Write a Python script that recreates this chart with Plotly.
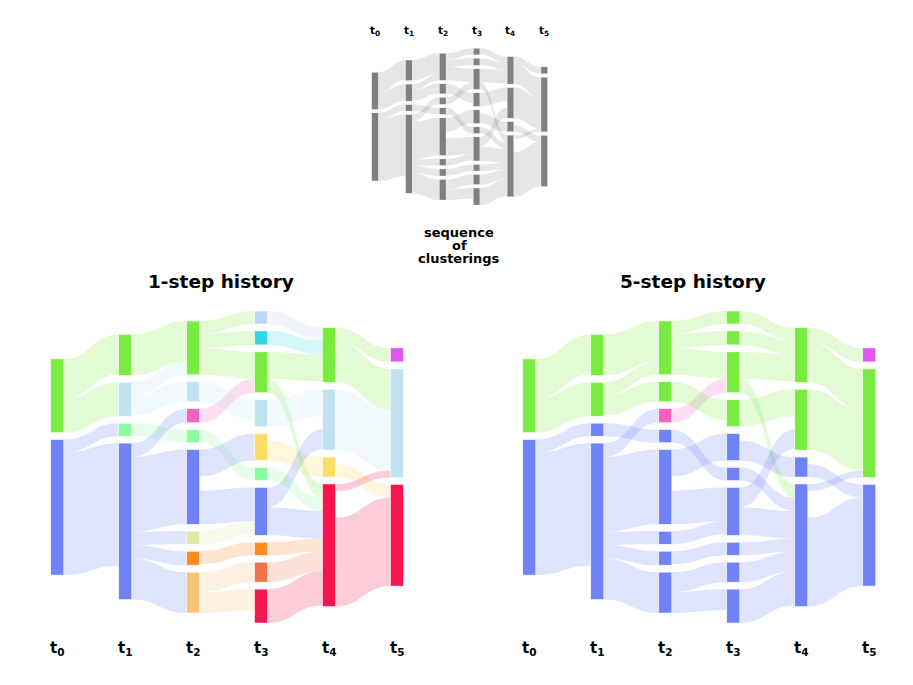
import plotly.graph_objects as go

FIG_W, FIG_H = 913, 685
OFF = 8.0  # page margin of the browser around the figure

# ---------------- data ----------------
step_labels = ["t<sub>0</sub>", "t<sub>1</sub>", "t<sub>2</sub>", "t<sub>3</sub>", "t<sub>4</sub>", "t<sub>5</sub>"]

# clusters at each time step (top to bottom)
col_t0 = ["G0", "B0"]
col_t1 = ["G1", "LB1", "LG1", "B1"]
col_t2 = ["G2", "LB2", "P2", "LG2", "B2", "O2", "OR2", "PE2"]
col_t3 = ["S3", "C3", "G3", "LB3", "Y3", "LG3", "B3", "OR3", "CO3", "CR3"]
col_t4 = ["G4", "LB4", "Y4", "CR4"]
col_t5 = ["M5", "LB5", "CR5"]
columns = [col_t0, col_t1, col_t2, col_t3, col_t4, col_t5]

# points leaving / arriving (drawn invisible)
GONE = "GONE"
NEW = "NEW"

link_source = ["G0", "G0", "B0", "B0",
               "G1", "LB1", "LB1", "LG1", "B1", "B1", "B1", "B1", "B1",
               "G2", "G2", "G2", "P2", "LB2", "LG2", "B2", "B2", "B2", "O2", "OR2", "PE2", "PE2",
               "S3", "C3", "G3", "G3", "LB3", "Y3", "Y3", "LG3", "B3", "B3", "OR3", "CO3", "CR3", "NEW",
               "G4", "G4", "LB4", "Y4", "Y4", "CR4", "CR4", "CR4"]
link_target = ["G1", "LB1", "LG1", "B1",
               "G2", "G2", "LB2", "LG2", "P2", "B2", "O2", "OR2", "PE2",
               "S3", "C3", "G3", "G3", "LB3", "LG3", "Y3", "GONE", "B3", "B3", "OR3", "CO3", "CR3",
               "G4", "G4", "G4", "CR4", "LB4", "GONE", "Y4", "CR4", "LB4", "CR4", "CR4", "CR4", "CR4", "LB4",
               "M5", "LB5", "LB5", "GONE", "CR5", "LB5", "GONE", "CR5"]
link_value = [40, 34, 13, 123,
              41, 13, 20, 13, 14, 75, 13, 14, 41,
              13, 14, 27, 14, 20, 13, 27, 14, 34, 13, 13, 20, 21,
              13, 14, 27, 14, 27, 7, 20, 13, 20, 28, 13, 20, 34, 13,
              14, 41, 61, 7, 13, 7, 27, 89]

colors_1step = {
    "G0": "#7AEC40", "B0": "#6F83F6",
    "G1": "#7AEC40", "LB1": "#C2E2F2", "LG1": "#8CFCA0", "B1": "#6F83F6",
    "G2": "#7AEC40", "LB2": "#C2E2F2", "P2": "#F063BE", "LG2": "#8CFCA0", "B2": "#6F83F6",
    "O2": "#E0E8A8", "OR2": "#FF8A24", "PE2": "#F8C478",
    "S3": "#BBD8F0", "C3": "#30D5E8", "G3": "#7AEC40", "LB3": "#C2E2F2", "Y3": "#FCDC64",
    "LG3": "#8CFCA0", "B3": "#6F83F6", "OR3": "#FF8A24", "CO3": "#EE744C", "CR3": "#F51650",
    "G4": "#7AEC40", "LB4": "#C2E2F2", "Y4": "#FCDC64", "CR4": "#F51650",
    "M5": "#E056F0", "LB5": "#C2E2F2", "CR5": "#F51650",
}
colors_5step = {
    "G0": "#7AEC40", "B0": "#6F83F6",
    "G1": "#7AEC40", "LB1": "#7AEC40", "LG1": "#6F83F6", "B1": "#6F83F6",
    "G2": "#7AEC40", "LB2": "#7AEC40", "P2": "#F063BE", "LG2": "#6F83F6", "B2": "#6F83F6",
    "O2": "#6F83F6", "OR2": "#6F83F6", "PE2": "#6F83F6",
    "S3": "#7AEC40", "C3": "#7AEC40", "G3": "#7AEC40", "LB3": "#7AEC40", "Y3": "#6F83F6",
    "LG3": "#6F83F6", "B3": "#6F83F6", "OR3": "#6F83F6", "CO3": "#6F83F6", "CR3": "#6F83F6",
    "G4": "#7AEC40", "LB4": "#7AEC40", "Y4": "#6F83F6", "CR4": "#6F83F6",
    "M5": "#E056F0", "LB5": "#7AEC40", "CR5": "#6F83F6",
}
colors_seq = {k: "#808080" for k in colors_1step}

# ---------------- layout helpers ----------------
visible_nodes = [n for c in columns for n in c]
all_nodes = visible_nodes + [NEW, GONE]
idx = {n: i for i, n in enumerate(all_nodes)}

ins = {n: 0.0 for n in all_nodes}
outs = {n: 0.0 for n in all_nodes}
for s, t, v in zip(link_source, link_target, link_value):
    outs[s] += v
    ins[t] += v
node_value = {n: max(ins[n], outs[n]) for n in all_nodes}


def positions(h_px, pad):
    # columns as the sankey engine groups them (sources without inputs -> first, sinks -> last)
    engine_cols = [list(c) for c in columns]
    engine_cols[0].append(NEW)
    engine_cols[-1].append(GONE)
    ky = min((h_px - (len(c) - 1) * pad) / sum(node_value[n] for n in c) for c in engine_cols)
    y0 = {}
    for c in columns:
        total = sum(node_value[n] for n in c) * ky + (len(c) - 1) * pad
        y = (h_px - total) / 2
        for n in c:
            y0[n] = y
            y += node_value[n] * ky + pad
    # invisible helper nodes: only their vertical order matters, kept off to the side
    y0[GONE] = (y0["Y3"] + y0["Y4"]) / 2
    y0[NEW] = (y0["LB3"] + y0["B3"]) / 2
    xs, ys = [], []
    for n in all_nodes:
        if n == NEW:
            xs.append(-0.25)
        elif n == GONE:
            xs.append(1.25)
        else:
            k = next(i for i, c in enumerate(columns) if n in c)
            xs.append(max(k / 5, 1e-6))
        ys.append((y0[n] + node_value[n] * ky / 2) / h_px)
    return xs, ys


def rgba(hexc, a):
    hexc = hexc.lstrip("#")
    r, g, b = int(hexc[0:2], 16), int(hexc[2:4], 16), int(hexc[4:6], 16)
    return f"rgba({r},{g},{b},{a})"


def px_x(v):
    return (v - OFF) / FIG_W


def px_y(v):
    return 1 - (v - OFF) / FIG_H


def make_sankey(colors, dom_px, thickness, pad, link_alpha, line_w):
    x0, x1, y0, y1 = dom_px
    h_px = y1 - y0
    xs, ys = positions(h_px, pad)
    ncol = [colors[n] if n in colors else "rgba(255,255,255,0)" for n in all_nodes]
    lcol = []
    for s, t in zip(link_source, link_target):
        if s == NEW or t == GONE:
            lcol.append("rgba(255,255,255,0)")
        else:
            lcol.append(rgba(colors[s], link_alpha))
    return go.Sankey(
        arrangement="fixed",
        domain=dict(x=[px_x(x0), px_x(x1)], y=[px_y(y1), px_y(y0)]),
        node=dict(color=ncol, x=xs, y=ys,
                  thickness=thickness, pad=pad,
                  line=dict(color="white", width=line_w),
                  hoverinfo="none"),
        link=dict(source=[idx[s] for s in link_source], target=[idx[t] for t in link_target],
                  value=link_value, color=lcol, hoverinfo="none"),
    )


dom_left = (57.3, 397.0, 311.0, 623.0)
dom_right = (529.3, 869.3, 311.0, 623.0)
dom_top = (375.0, 544.3, 48.3, 205.0)

fig = go.Figure()
fig.add_trace(make_sankey(colors_seq, dom_top, 6.6, 3.5, 0.2, 0.3))
fig.add_trace(make_sankey(colors_1step, dom_left, 13, 7, 0.22, 0.5))
fig.add_trace(make_sankey(colors_5step, dom_right, 13, 7, 0.22, 0.5))

annotations = []
FONT = "DejaVu Sans"


def col_x(dom, k):
    return px_x(dom[0] + (dom[1] - dom[0]) * k / 5)


for k, lab in enumerate(step_labels):
    annotations.append(dict(x=col_x(dom_top, k), y=px_y(31), text=f"<b>{lab}</b>",
                            font=dict(family=FONT, size=10.5, color="black")))
    for dom in (dom_left, dom_right):
        annotations.append(dict(x=col_x(dom, k), y=px_y(648), text=f"<b>{lab}</b>",
                                font=dict(family=FONT, size=15, color="black")))

annotations.append(dict(x=px_x(221), y=px_y(281), text="<b>1-step history</b>",
                        font=dict(family=FONT, size=18.5, color="black")))
annotations.append(dict(x=px_x(693), y=px_y(281), text="<b>5-step history</b>",
                        font=dict(family=FONT, size=18.5, color="black")))
for line, yy in zip(["sequence", "of", "clusterings"], [232, 245, 258]):
    annotations.append(dict(x=px_x(459), y=px_y(yy), text=f"<b>{line}</b>", borderpad=0,
                            font=dict(family=FONT, size=13, color="black")))

for a in annotations:
    a.update(xref="paper", yref="paper", showarrow=False, xanchor="center", yanchor="middle")

fig.update_layout(width=FIG_W, height=FIG_H, margin=dict(l=0, r=0, t=0, b=0),
                  paper_bgcolor="white", plot_bgcolor="white", annotations=annotations,
                  showlegend=False)

fig.write_html("out.html")
